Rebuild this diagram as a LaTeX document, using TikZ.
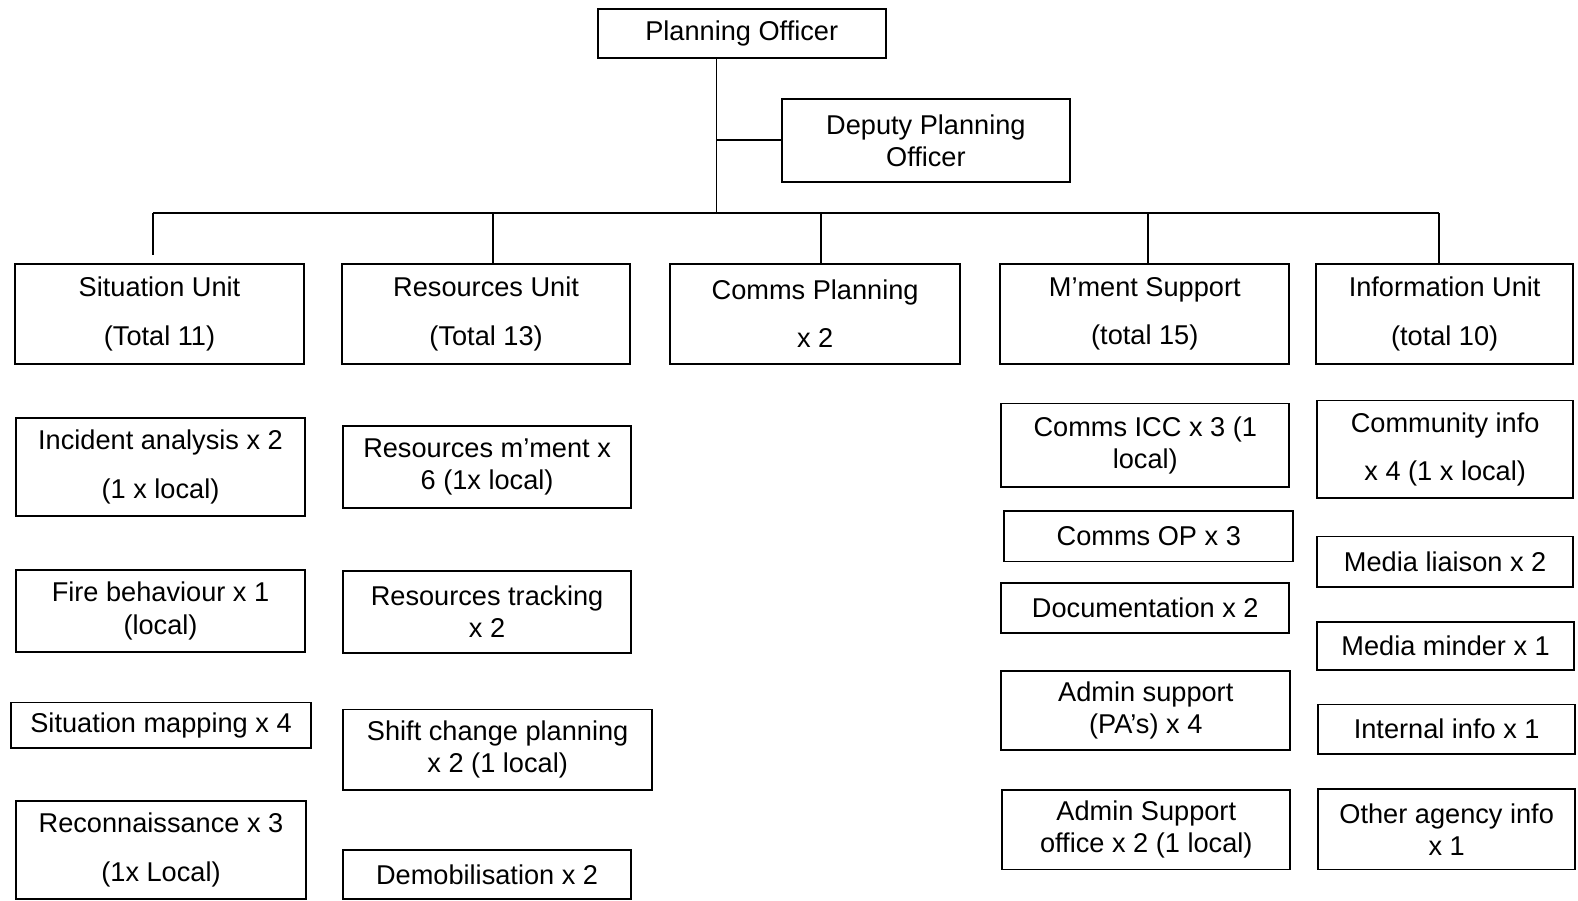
\documentclass[tikz,border=0pt]{standalone}
\usepackage{fontspec}
\setmainfont{Liberation Sans}
\begin{document}
\begin{tikzpicture}[x=1pt,y=-1pt,
  box/.style={draw, line width=1.8pt, rectangle, inner sep=2pt, align=center,
    font=\fontsize{27}{32}\selectfont},
  wide/.style={font=\fontsize{27}{48}\selectfont},
  conn/.style={line width=1.8pt}]
\useasboundingbox (0,0) rectangle (1568,895);
% top
\node[box, minimum width=286, minimum height=49] (po) at (737,33.5) {Planning Officer};
\node[box, minimum width=286, minimum height=83] (dep) at (920,139.5) {Deputy Planning\\Officer};
% units
\node[box, wide, minimum width=287, minimum height=100] (su) at (158.5,312) {Situation Unit\\(Total 11)};
\node[box, wide, minimum width=286, minimum height=100] (ru) at (483,312) {Resources Unit\\(Total 13)};
\node[box, wide, minimum width=288, minimum height=100] (cp) at (810,312) {Comms Planning\\x 2};
\node[box, wide, minimum width=287, minimum height=100] (ms) at (1137.5,312) {M'ment Support\\(total 15)};
\node[box, wide, minimum width=255, minimum height=100] (iu) at (1435.5,312) {Information Unit\\(total 10)};
% connectors
\coordinate (j1) at (712,212);
\coordinate (bl) at (152,212);
\coordinate (br) at (1430,212);
\coordinate (sudrop) at (152,253);
\draw[conn] (po.south -| j1) -- (j1);
\draw[conn] (j1 |- dep.west) -- (dep.west);
\draw[conn] (bl) -- (br);
\draw[conn] (bl) -- (sudrop);
\draw[conn] (490,212) -- (ru.north -| 490,0);
\draw[conn] (816,212) -- (cp.north -| 816,0);
\draw[conn] (1141,212) -- (ms.north -| 1141,0);
\draw[conn] (br) -- (iu.north -| br);
% column 1
\node[box, wide, minimum width=287, minimum height=98] (ia) at (159.5,464) {Incident analysis x 2\\(1 x local)};
\node[box, minimum width=287, minimum height=82] (fb) at (159.5,607) {Fire behaviour x 1\\(local)};
\node[box, minimum width=298, minimum height=45] (sm) at (160,720.5) {Situation mapping x 4};
\node[box, wide, minimum width=288, minimum height=97] (rc) at (160,844.5) {Reconnaissance x 3\\(1x Local)};
% column 2
\node[box, minimum width=286, minimum height=82] (rm) at (484,464) {Resources m'ment x\\6 (1x local)};
\node[box, minimum width=286, minimum height=82] (rt) at (484,608) {Resources tracking\\x 2};
\node[box, minimum width=307, minimum height=80] (sc) at (494.5,745) {Shift change planning\\x 2 (1 local)};
\node[box, minimum width=286, minimum height=48] (dm) at (484,869) {Demobilisation x 2};
% column 4
\node[box, minimum width=286, minimum height=83] (ci) at (1138,442.5) {Comms ICC x 3 (1\\local)};
\node[box, minimum width=287, minimum height=50] (co) at (1141.5,533) {Comms OP x 3};
\node[box, minimum width=286, minimum height=50] (dc) at (1138,604) {Documentation x 2};
\node[box, minimum width=287, minimum height=78] (ap) at (1138.5,706) {Admin support\\(PA's) x 4};
\node[box, minimum width=286, minimum height=79] (ao) at (1139,824.5) {Admin Support\\office x 2 (1 local)};
% column 5
\node[box, wide, minimum width=254, minimum height=97] (cm) at (1436,446.5) {Community info\\x 4 (1 x local)};
\node[box, minimum width=254, minimum height=50] (ml) at (1436,558) {Media liaison x 2};
\node[box, minimum width=255, minimum height=48] (mm) at (1436.5,642) {Media minder x 1};
\node[box, minimum width=255, minimum height=49] (ii) at (1437.5,724.5) {Internal info x 1};
\node[box, minimum width=255, minimum height=80] (oa) at (1437.5,824) {Other agency info\\x 1};
\end{tikzpicture}
\end{document}
